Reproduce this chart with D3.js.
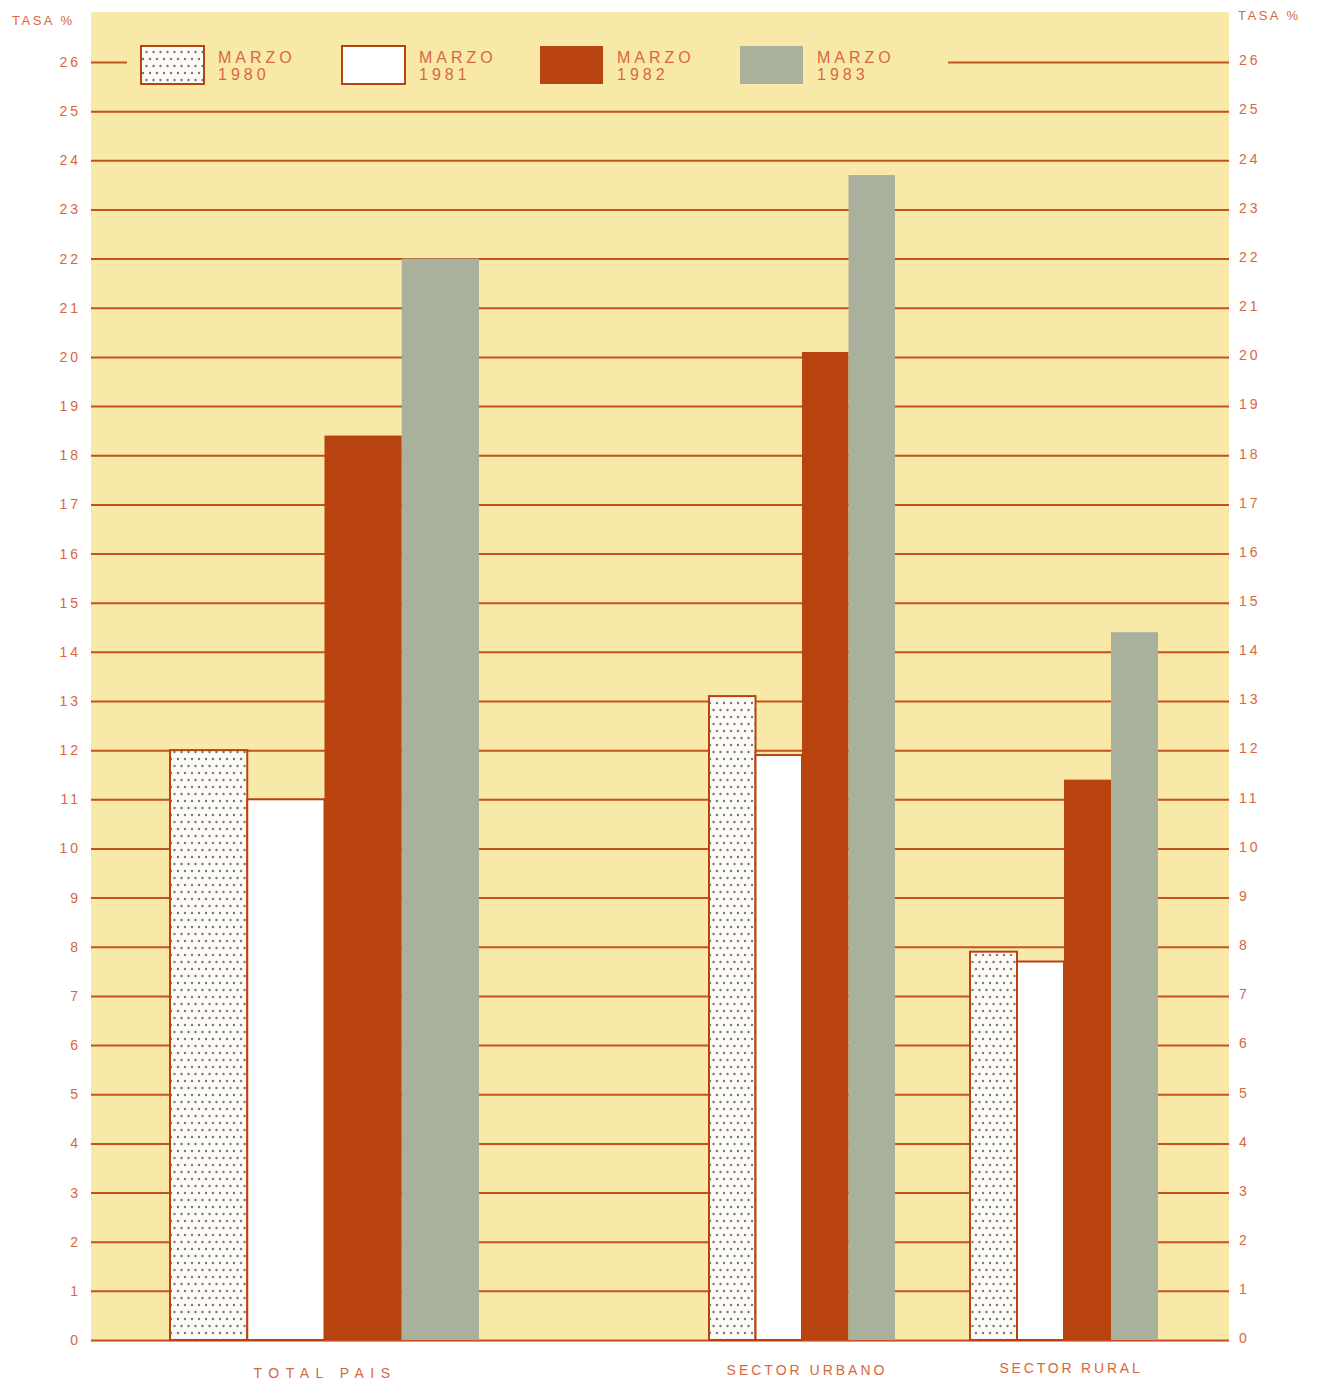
<!DOCTYPE html>
<html><head><meta charset="utf-8">
<script src="https://cdn.jsdelivr.net/npm/d3@7"></script>
<style>body{margin:0;background:#fff;} svg{display:block;font-family:"Liberation Sans",Arial,sans-serif;}</style>
</head><body>
<script>
const categories = ["TOTAL PAIS", "SECTOR URBANO", "SECTOR RURAL"];
const seriesNames = ["MARZO 1980", "MARZO 1981", "MARZO 1982", "MARZO 1983"];
const legendTop = ["MARZO", "MARZO", "MARZO", "MARZO"];
const legendBottom = ["1980", "1981", "1982", "1983"];
const marzo1980 = [12.0, 13.1, 7.9];
const marzo1981 = [11.0, 11.9, 7.7];
const marzo1982 = [18.4, 20.1, 11.4];
const marzo1983 = [22.0, 23.7, 14.4];
const yTicks = d3.range(0, 27);

const W = 1321, H = 1383;
const svg = d3.select("body").append("svg").attr("width", W).attr("height", H);
const defs = svg.append("defs");
const pat = defs.append("pattern").attr("id","dots").attr("patternUnits","userSpaceOnUse")
  .attr("width",14).attr("height",14);
pat.append("rect").attr("width",14).attr("height",14).attr("fill","#fdfbf4");
[[3,3],[10,3],[6.5,10],[13.5,10],[-0.5,10]].forEach(p =>
  pat.append("circle").attr("cx",p[0]).attr("cy",p[1]).attr("r",1.2).attr("fill","#707888"));

const fills = ["url(#dots)", "#ffffff", "#b8430f", "#a9b09c"];
const strokes = ["#b8430f", "#b8430f", "none", "none"];
const grid = "#c4521c", txt = "#d6683e";

const plotL = 91, plotR = 1229;
const y = d3.scaleLinear().domain([0, 26]).range([1340, 62]);

// background
svg.append("rect").attr("x", plotL).attr("y", 12).attr("width", plotR - plotL).attr("height", 1330).attr("fill", "#f9e9a9");

// gridlines via axis
const gAxis = svg.append("g").attr("transform", `translate(${plotL},0)`)
  .call(d3.axisRight(y).tickValues(yTicks).tickSize(plotR - plotL).tickFormat(""));
gAxis.select(".domain").remove();
gAxis.selectAll(".tick line").attr("stroke", grid).attr("stroke-width", 2);

// cover 26 line behind legend
svg.append("rect").attr("x", 127).attr("y", y(26) - 4).attr("width", 948 - 127).attr("height", 8).attr("fill", "#f9e9a9");

// axis labels
const la = svg.append("g").attr("transform", `translate(84,0)`)
  .call(d3.axisLeft(y).tickValues(yTicks).tickSize(0).tickFormat(d => String(d)));
la.select(".domain").remove();
la.selectAll("text").attr("fill", txt).attr("font-size", 14).attr("letter-spacing", 3).attr("dy", "0.32em");
const ra = svg.append("g").attr("transform", `translate(1236,0)`)
  .call(d3.axisRight(y).tickValues(yTicks).tickSize(0).tickFormat(d => String(d)));
ra.select(".domain").remove();
ra.selectAll("text").attr("fill", txt).attr("font-size", 14).attr("letter-spacing", 3).attr("dy", "0.2em");

svg.append("text").attr("x", 12).attr("y", 25).attr("fill", txt).attr("font-size", 13).attr("letter-spacing", 2.5).text("TASA %");
svg.append("text").attr("x", 1238).attr("y", 20).attr("fill", txt).attr("font-size", 13).attr("letter-spacing", 2.5).text("TASA %");

// groups
const groupRanges = [[170, 479], [709, 895], [970, 1158]];
const values = [marzo1980, marzo1981, marzo1982, marzo1983];
categories.forEach((c, ci) => {
  const x1 = d3.scaleBand().domain(seriesNames).range(groupRanges[ci]).padding(0);
  seriesNames.forEach((s, si) => {
    const v = values[si][ci];
    svg.append("rect").attr("x", x1(s)).attr("y", y(v)).attr("width", x1.bandwidth()).attr("height", y(0) - y(v))
      .attr("fill", fills[si]).attr("stroke", strokes[si]).attr("stroke-width", strokes[si] === "none" ? 0 : 2);
  });
});

// category labels
const catX = [325, 807, 1071];
const catY = [1378, 1375, 1373];
const catSpacing = [6.5, 3, 2.8];
categories.forEach((c, i) => {
  svg.append("text").attr("x", catX[i]).attr("y", catY[i]).attr("text-anchor", "middle")
    .attr("fill", txt).attr("font-size", 14).attr("letter-spacing", catSpacing[i]).text(c);
});

// legend
const legX = [141, 342, 540, 740];
seriesNames.forEach((s, i) => {
  svg.append("rect").attr("x", legX[i]).attr("y", 46).attr("width", 63).attr("height", 38)
    .attr("fill", fills[i]).attr("stroke", strokes[i]).attr("stroke-width", strokes[i] === "none" ? 0 : 2);
  svg.append("text").attr("x", legX[i] + 77).attr("y", 63).attr("fill", txt).attr("font-size", 16).attr("letter-spacing", 4).text(legendTop[i]);
  svg.append("text").attr("x", legX[i] + 77).attr("y", 80).attr("fill", txt).attr("font-size", 16).attr("letter-spacing", 4).text(legendBottom[i]);
});
</script>
</body></html>
